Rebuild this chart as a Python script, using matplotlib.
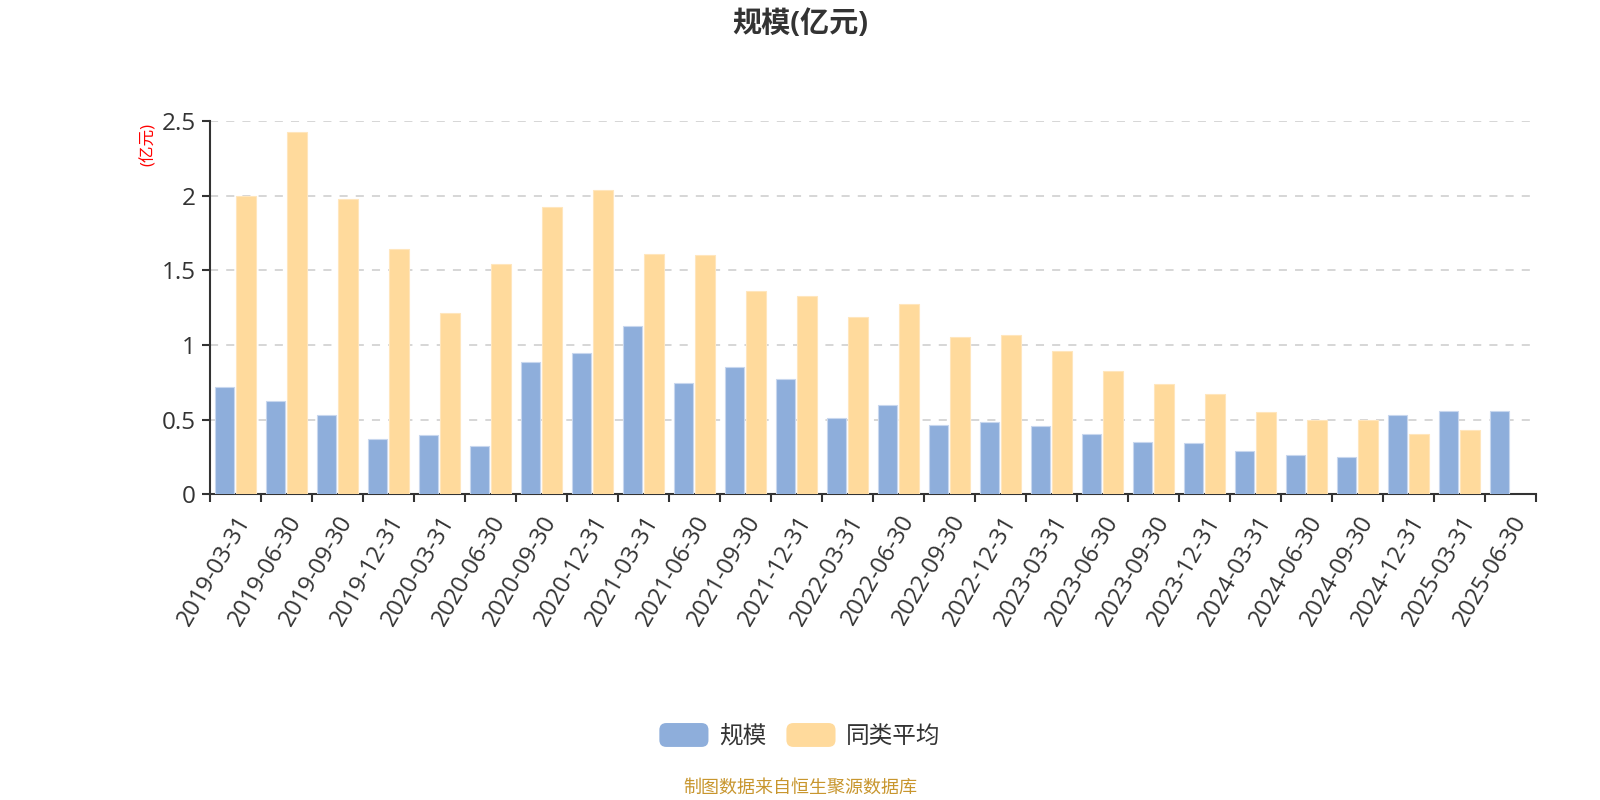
import numpy as np
import matplotlib
matplotlib.use("Agg")
from matplotlib import pyplot as plt
from matplotlib.patches import FancyBboxPatch, Rectangle
from matplotlib.legend_handler import HandlerPatch

plt.rcParams['font.family'] = ['Open Sans', 'Noto Sans CJK SC', 'DejaVu Sans']

dates = ['2019-03-31', '2019-06-30', '2019-09-30', '2019-12-31',
         '2020-03-31', '2020-06-30', '2020-09-30', '2020-12-31',
         '2021-03-31', '2021-06-30', '2021-09-30', '2021-12-31',
         '2022-03-31', '2022-06-30', '2022-09-30', '2022-12-31',
         '2023-03-31', '2023-06-30', '2023-09-30', '2023-12-31',
         '2024-03-31', '2024-06-30', '2024-09-30', '2024-12-31',
         '2025-03-31', '2025-06-30']
scale = [0.716, 0.627, 0.529, 0.371, 0.398, 0.327, 0.887, 0.949,
         1.124, 0.747, 0.854, 0.771, 0.513, 0.597, 0.464, 0.484,
         0.461, 0.401, 0.350, 0.341, 0.292, 0.265, 0.247, 0.533,
         0.557, 0.559]
# 2025-06-30 has no peer average
peer_avg = [2.0, 2.424, 1.978, 1.644, 1.216, 1.544, 1.922, 2.038,
            1.607, 1.600, 1.359, 1.326, 1.186, 1.277, 1.056, 1.068,
            0.958, 0.827, 0.738, 0.671, 0.553, 0.499, 0.501, 0.406,
            0.428, np.nan]
yticks = [0, 0.5, 1, 1.5, 2, 2.5]
ytick_labels = ['0', '0.5', '1', '1.5', '2', '2.5']

blue = '#8EAEDB'
orange = '#FFDA9C'
text_c = '#333333'

fig = plt.figure(figsize=(16, 8), dpi=100)
ax = fig.add_axes([0.131, 0.382, 0.829, 0.467])

x = np.arange(len(dates))
pa = np.array(peer_avg)
ok = ~np.isnan(pa)
w = 0.38
ax.bar(x - 0.21, scale, w, color=blue, edgecolor='#c8d7ee', linewidth=0.8, zorder=3)
ax.bar(x[ok] + 0.21, pa[ok], w, color=orange, edgecolor='#ffe6bd', linewidth=0.8, zorder=3)

ax.set_xlim(-0.5, len(dates) - 0.5)
ax.set_ylim(0, 2.5)
ax.set_yticks(yticks)
ax.set_yticklabels(ytick_labels)
ax.yaxis.grid(True, linestyle=(0, (5.3, 5.3)), color='#cccccc', linewidth=1.1, zorder=0)
ax.set_xticks(x)
ax.set_xticklabels(dates, rotation=60, ha='right', rotation_mode='anchor')
ax.set_xticks(np.arange(-0.5, len(dates)), minor=True)
ax.tick_params(axis='x', which='major', length=0, pad=12, labelsize=17, labelcolor=text_c)
ax.tick_params(axis='x', which='minor', length=6, width=1.5, color=text_c)
ax.tick_params(axis='y', length=6, width=1.5, color=text_c, labelsize=17.5, labelcolor=text_c, pad=4)

for s in ['top', 'right']:
    ax.spines[s].set_visible(False)
for s in ['left', 'bottom']:
    ax.spines[s].set_color(text_c)
    ax.spines[s].set_linewidth(1.5)

ax.text(-0.046, 0.995, '(亿元)', transform=ax.transAxes, rotation=90, color='red',
        fontsize=12, ha='center', va='top')

fig.text(0.5, 0.969, '规模(亿元)', ha='center', va='center', fontsize=21,
         fontweight='bold', color=text_c)


class RoundHandler(HandlerPatch):
    def create_artists(self, legend, orig_handle, xdescent, ydescent, width, height, fontsize, trans):
        p = FancyBboxPatch((-xdescent, -ydescent), width, height,
                           boxstyle='round,pad=0,rounding_size=5',
                           facecolor=orig_handle.get_facecolor(), edgecolor='none',
                           transform=trans)
        return [p]


handles = [Rectangle((0, 0), 1, 1, facecolor=blue), Rectangle((0, 0), 1, 1, facecolor=orange)]
labels = ['规模', '同类平均']
leg = fig.legend(handles, labels, loc='center', bbox_to_anchor=(0.5, 0.08), ncol=2,
                 frameon=False, fontsize=17, handlelength=2.08, handleheight=1.18,
                 columnspacing=0.85, handletextpad=0.45,
                 handler_map={Rectangle: RoundHandler()})
for t in leg.get_texts():
    t.set_color(text_c)

fig.text(0.5, 0.016, '制图数据来自恒生聚源数据库', ha='center', va='center',
         fontsize=13, color='#C8962E')

fig.savefig('out.png', dpi=100)
